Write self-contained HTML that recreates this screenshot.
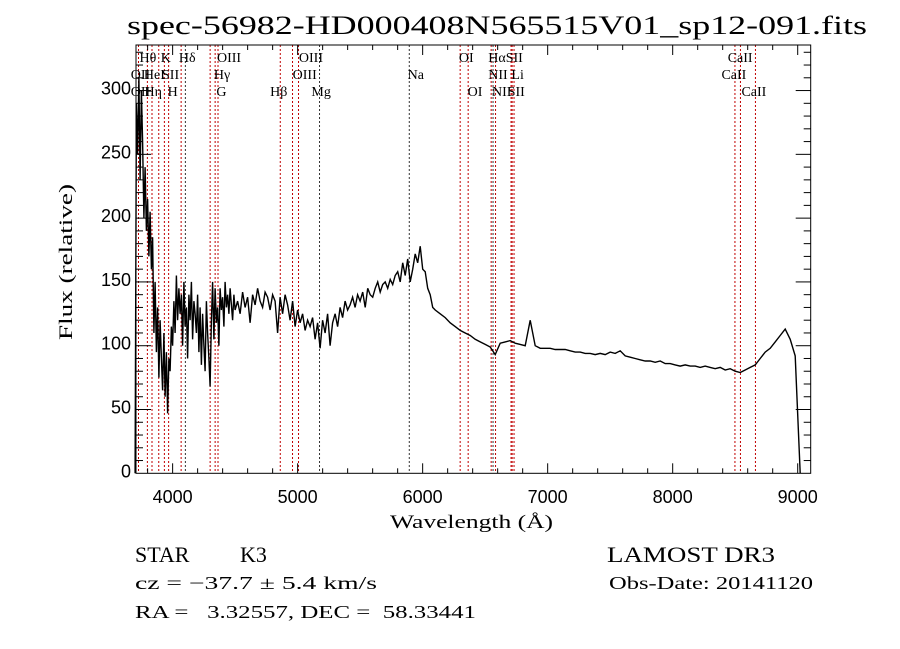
<!DOCTYPE html>
<html><head><meta charset="utf-8"><style>
html,body{margin:0;padding:0;background:#fff}
svg{display:block}
text{font-family:"Liberation Serif",serif;fill:#000}
.tk{font-family:"Liberation Sans",sans-serif;font-size:18px}
</style></head><body>
<svg id="chart" width="900" height="649" viewBox="0 0 900 649" xmlns="http://www.w3.org/2000/svg">
<rect width="900" height="649" fill="#fff"/>
<text x="127" y="34" font-size="26" textLength="740" lengthAdjust="spacingAndGlyphs">spec-56982-HD000408N565515V01_sp12-091.fits</text>
<g id="lines"></g>
<g id="spec"></g>
<g id="axes"></g>
<g id="labels"></g>
<text x="390" y="528" font-size="19" textLength="163" lengthAdjust="spacingAndGlyphs">Wavelength (Å)</text>
<text transform="translate(72,340) rotate(-90)" font-size="19" textLength="156" lengthAdjust="spacingAndGlyphs">Flux (relative)</text>
<text x="135" y="562" font-size="22">STAR</text>
<text x="240" y="562" font-size="22">K3</text>
<text x="607" y="562" font-size="22" textLength="168" lengthAdjust="spacingAndGlyphs">LAMOST DR3</text>
<text x="135" y="589" font-size="18" textLength="242" lengthAdjust="spacingAndGlyphs">cz = −37.7 ± 5.4 km/s</text>
<text x="609" y="589" font-size="18" textLength="204" lengthAdjust="spacingAndGlyphs">Obs-Date: 20141120</text>
<text x="135" y="618" font-size="18" textLength="341" lengthAdjust="spacingAndGlyphs" xml:space="preserve">RA =   3.32557, DEC =  58.33441</text>
</svg>
<script>
const segStarts=[3700,4500,6140];
const segSteps=[10,20,40];
const fluxA=[0,290,250,310,230,300,260,200,240,190,215,170,205,160,185,110,150,95,130,75,120,90,65,110,60,95,47,90,80,115,100,135,110,155,120,145,125,140,100,150,115,130,90,140,120,150,105,135,125,110,140,95,130,85,125,100,80,135,110,90,68,120,150,105,145,118,130,100,145,128,138,115,150,130,140,125,145,132,120,140,128];
const fluxB=[128,135,125,142,130,138,118,140,132,145,135,130,142,138,128,140,135,110,138,125,140,132,120,135,115,128,118,125,112,120,115,122,105,118,98,120,110,125,100,118,125,115,130,122,135,128,132,138,130,140,135,142,130,145,140,138,145,150,142,148,150,145,152,148,155,158,150,165,155,168,150,160,172,165,178,160,158,145,140,130,128];
const fluxC=[125,122,118,115,112,110,108,105,103,101,99,93,102,103,104,102,101,100,120,100,98,98,98,97,97,97,96,95,95,94,94,93,94,93,95,94,96,92,91,90,89,88,88,87,88,86,86,85,84,85,84,84,83,84,83,82,83,81,82,80,79,81,83,85,90,95,98,103,108,113,105,92,0];
const xTicks=[4000,5000,6000,7000,8000,9000];
const yTicks=[0,50,100,150,200,250,300];
const lineWaves=[3727,3798,3835,3889,3934,3968,4068,4102,4300,4340,4363,4861,4959,5007,5175,5893,6300,6364,6548,6563,6583,6707,6716,6731,8498,8542,8662];
const lineBlack=[0,0,0,0,0,0,0,1,0,0,0,0,0,0,1,1,0,0,0,1,0,0,0,0,0,0,0];
const labelText=["Hθ","K","Hδ","OIII","OIII","OI","HαSII","CaII","OII","HeI","SII","Hγ","OIII","Na","NII","Li","CaII","OII","Hη","H","G","Hβ","Mg","OI","NII","SII","CaII"];
const labelWave=[3735,3905,4050,4355,5010,6290,6525,8440,3665,3770,3915,4330,4960,5880,6525,6710,8390,3665,3775,3960,4350,4780,5110,6360,6555,6680,8550];
const labelRow=[0,0,0,0,0,0,0,0,1,1,1,1,1,1,1,1,1,2,2,2,2,2,2,2,2,2,2];

const L=136,R=810.7,T=45,B=473.3;
const xMin=3707,xMax=9104,yMin=0,yMax=335.7;
function X(w){return L+(w-xMin)/(xMax-xMin)*(R-L);}
function Y(v){return B-(v-yMin)/(yMax-yMin)*(B-T);}
const NS="http://www.w3.org/2000/svg";
function mk(t,a,p){const e=document.createElementNS(NS,t);for(const k in a)e.setAttribute(k,a[k]);p.appendChild(e);return e;}

const gl=document.getElementById('lines');
lineWaves.forEach((w,i)=>{
  const e=mk('line',{x1:X(w),x2:X(w),y1:T,y2:B,stroke:lineBlack[i]?'#333':'#c00000','stroke-width':1,'stroke-dasharray':'2,2'},gl);
  
  
});

const gs=document.getElementById('spec');
let pts=[];
[fluxA,fluxB,fluxC].forEach((arr,s)=>{arr.forEach((v,i)=>{const w=segStarts[s]+segSteps[s]*i;if(s===1&&i===0)return;pts.push(X(w).toFixed(1)+','+Y(Math.max(v,0)).toFixed(1));});});
const pl=mk('polyline',{points:pts.join(' '),fill:'none',stroke:'#000','stroke-width':1.4,'stroke-linejoin':'miter'},gs);



const ga=document.getElementById('axes');
const fr=mk('rect',{x:L,y:T,width:R-L,height:B-T,fill:'none',stroke:'#000','stroke-width':1},ga);


for(let w=3800;w<=9100;w+=200){
  const major=xTicks.indexOf(w)>=0;const len=major?10:5;
  mk('line',{x1:X(w),x2:X(w),y1:B,y2:B-len,stroke:'#000'},ga);
  mk('line',{x1:X(w),x2:X(w),y1:T,y2:T+len,stroke:'#000'},ga);
}
for(let v=10;v<=330;v+=10){
  const major=yTicks.indexOf(v)>=0;const len=major?15:7;
  mk('line',{x1:L,x2:L+len,y1:Y(v),y2:Y(v),stroke:'#000'},ga);
  mk('line',{x1:R,x2:R-len,y1:Y(v),y2:Y(v),stroke:'#000'},ga);
}
xTicks.forEach(w=>{
  const t=mk('text',{x:X(w),y:503,'text-anchor':'middle',class:'tk'},ga);t.textContent=w;
  
  
});
yTicks.forEach(v=>{
  const t=mk('text',{x:131,y:Y(v)+4,'text-anchor':'end',class:'tk'},ga);t.textContent=v;
  
  
});
const glb=document.getElementById('labels');
const rowY=[62,79,96];
labelText.forEach((s,i)=>{
  const t=mk('text',{x:X(labelWave[i]),y:rowY[labelRow[i]],'font-size':14},glb);t.textContent=s;
  
  
});
</script>
</body></html>
